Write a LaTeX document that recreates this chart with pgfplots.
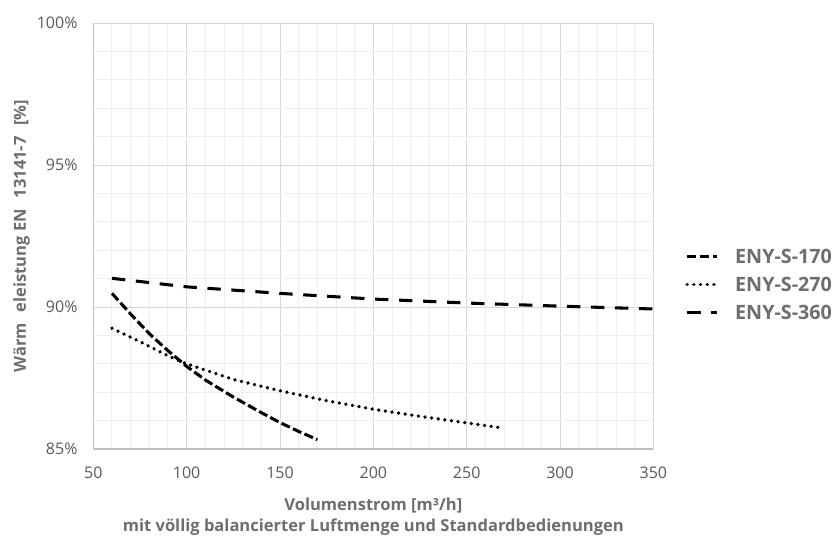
\documentclass[border=0pt]{standalone}
\usepackage{pgfplots}
\pgfplotsset{compat=1.18}
\usepackage{fontspec}
\setmainfont{Open Sans}
\definecolor{tickgray}{HTML}{595959}
\definecolor{labgray}{HTML}{6E6E6E}
\definecolor{majgrid}{HTML}{D9D9D9}
\definecolor{mingrid}{HTML}{EFEFEF}
\definecolor{axgray}{HTML}{BFBFBF}
\begin{document}
\begin{tikzpicture}
\useasboundingbox (-70pt,-68.25pt) rectangle (555.5pt,336.75pt);
\begin{axis}[
  at={(0pt,0pt)}, anchor=south west,
  scale only axis, width=420pt, height=319.5pt,
  xmin=50, xmax=350, ymin=85, ymax=100,
  xtick={50,100,150,200,250,300,350},
  xticklabels={50,100,150,200,250,300,350},
  ytick={85,90,95,100},
  yticklabels={85\%,90\%,95\%,100\%},
  minor x tick num=4, minor y tick num=4,
  grid=both,
  major grid style={color=majgrid, line width=0.75pt},
  minor grid style={color=mingrid, line width=0.75pt},
  axis lines*=left,
  axis line style={color=axgray, line width=0.9pt, -},
  major tick length=0pt, minor tick length=0pt,
  tick style={draw=none},
  xticklabel style={anchor=center, yshift=-17.5pt, font=\fontsize{12}{14}\selectfont, text=tickgray},
  yticklabel style={anchor=east, inner sep=0pt, xshift=-11.7pt, font=\fontsize{12}{14}\selectfont, text=tickgray},
  every axis x label/.style={at={(axis description cs:0.5,0)}, anchor=center, yshift=-51pt, align=center, font=\bfseries\fontsize{12.4}{15.75}\selectfont, text=labgray},
  every axis y label/.style={at={(axis description cs:-0.128,0.5)}, rotate=90, anchor=center, font=\bfseries\fontsize{12.4}{14}\selectfont, text=labgray},
  xlabel={Volumenstrom [m³/h]\\mit völlig balancierter Luftmenge und Standardbedienungen},
  ylabel={Wärm\hspace{0.65em}eleistung EN\hspace{0.65em}13141-7\hspace{0.65em}[\%]},
  legend style={draw=none, fill=none, at={(axis description cs:1.0566,0.386)}, anchor=west,
    inner sep=0pt, row sep=10.5pt,
    nodes={inner sep=0pt, text height=10.5pt, text depth=0pt, font=\bfseries\fontsize{14.8}{16}\selectfont, text=labgray}},
  legend cell align=left,
  legend image code/.code={\path[draw=none, fill=none] (0pt,0pt) -- (36pt,0pt); \draw[#1] (0pt,0pt) -- (22.5pt,0pt);},
]
\addplot[black, line width=2.3pt, dash pattern=on 6.9pt off 2.6pt] coordinates {
(60,90.48) (70,89.75) (80,89.06) (90,88.46) (100,87.91) (110,87.43) (125,86.83) (140,86.28) (150,85.93) (160,85.62) (170,85.33)
};
\addlegendentry{ENY-S-170}
\addplot[black, line width=2.8pt, line cap=round, dash pattern=on 0.01pt off 5pt] coordinates {
(60,89.25) (75,88.78) (90,88.28) (100,88.00) (125,87.45) (150,87.05) (175,86.70) (200,86.40) (225,86.15) (250,85.92) (268,85.75)
};
\addlegendentry{ENY-S-270}
\addplot[black, line width=2.3pt, dash pattern=on 10pt off 8pt] coordinates {
(60,91.01) (100,90.71) (150,90.48) (200,90.28) (250,90.14) (300,90.03) (350,89.93)
};
\addlegendentry{ENY-S-360}
\end{axis}
\end{tikzpicture}
\end{document}
